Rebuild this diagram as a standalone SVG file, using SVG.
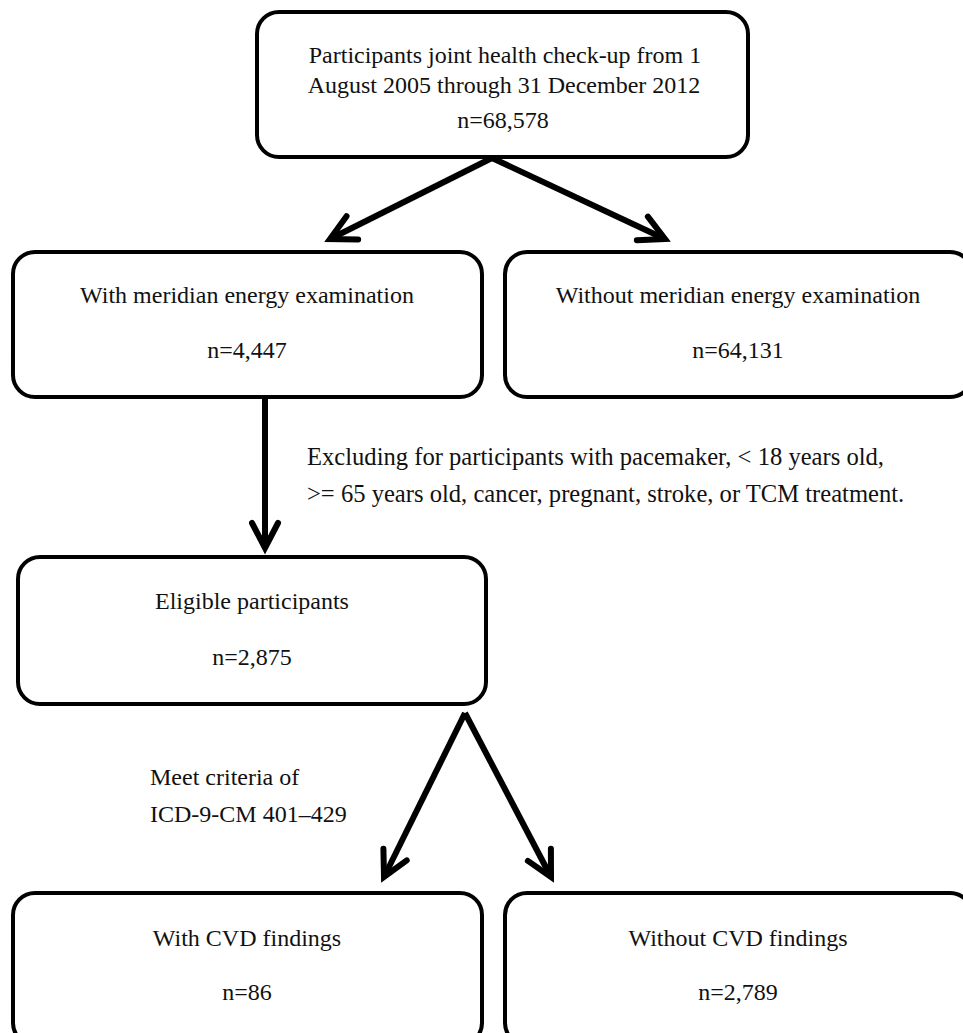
<svg xmlns="http://www.w3.org/2000/svg" width="963" height="1033" viewBox="0 0 963 1033">
<style>
.box{fill:#fff;stroke:#000;stroke-width:4}
.t{font-family:"Liberation Serif","Times New Roman",serif;font-size:24px;fill:#111}
.c{text-anchor:middle}
.x{font-size:24.6px}
.con{stroke:#000;stroke-width:6;fill:none;marker-end:url(#ah)}
</style>
<defs>
<marker id="ah" markerUnits="userSpaceOnUse" orient="auto" markerWidth="40" markerHeight="40" viewBox="-30 -20 40 40" refX="0" refY="0" overflow="visible">
<path d="M-25,-13 L0,0 L-25,13" fill="none" stroke="#000" stroke-width="6" stroke-linejoin="miter" stroke-linecap="round"/>
</marker>
</defs>
<rect width="963" height="1033" fill="#fff"/>
<g id="connectors">
<line class="con" x1="492" y1="158" x2="330" y2="239"/>
<line class="con" x1="492" y1="158" x2="665" y2="239"/>
<line class="con" x1="265" y1="397" x2="265" y2="548"/>
<line class="con" x1="465" y1="713" x2="384" y2="877"/>
<line class="con" x1="465" y1="713" x2="551" y2="877"/>
</g>
<g id="n-start">
<rect class="box" x="257" y="12" width="491" height="145" rx="22"/>
<text class="t c" x="505" y="63">Participants joint health check-up from 1</text>
<text class="t c" x="504" y="93">August 2005 through 31 December 2012</text>
<text class="t c" x="503" y="128">n=68,578</text>
</g>
<g id="n-with-me">
<rect class="box" x="13" y="252" width="469" height="145" rx="22"/>
<text class="t c" x="247" y="303">With meridian energy examination</text>
<text class="t c" x="247" y="358">n=4,447</text>
</g>
<g id="n-without-me">
<rect class="box" x="505" y="252" width="467" height="145" rx="22"/>
<text class="t c" x="738" y="303">Without meridian energy examination</text>
<text class="t c" x="738" y="358">n=64,131</text>
</g>
<g id="l-exclude">
<text class="t x" x="307" y="465">Excluding for participants with pacemaker, &lt; 18 years old,</text>
<text class="t x" x="307" y="502">&gt;= 65 years old, cancer, pregnant, stroke, or TCM treatment.</text>
</g>
<g id="n-eligible">
<rect class="box" x="18" y="557" width="468" height="147" rx="22"/>
<text class="t c" x="252" y="609">Eligible participants</text>
<text class="t c" x="252" y="665">n=2,875</text>
</g>
<g id="l-criteria">
<text class="t" x="150" y="785">Meet criteria of</text>
<text class="t" x="150" y="822">ICD-9-CM 401–429</text>
</g>
<g id="n-with-cvd">
<rect class="box" x="13" y="893" width="469" height="152" rx="22"/>
<text class="t c" x="247" y="946">With CVD findings</text>
<text class="t c" x="247" y="1000">n=86</text>
</g>
<g id="n-without-cvd">
<rect class="box" x="505" y="893" width="467" height="152" rx="22"/>
<text class="t c" x="738" y="946">Without CVD findings</text>
<text class="t c" x="738" y="1000">n=2,789</text>
</g>
</svg>
